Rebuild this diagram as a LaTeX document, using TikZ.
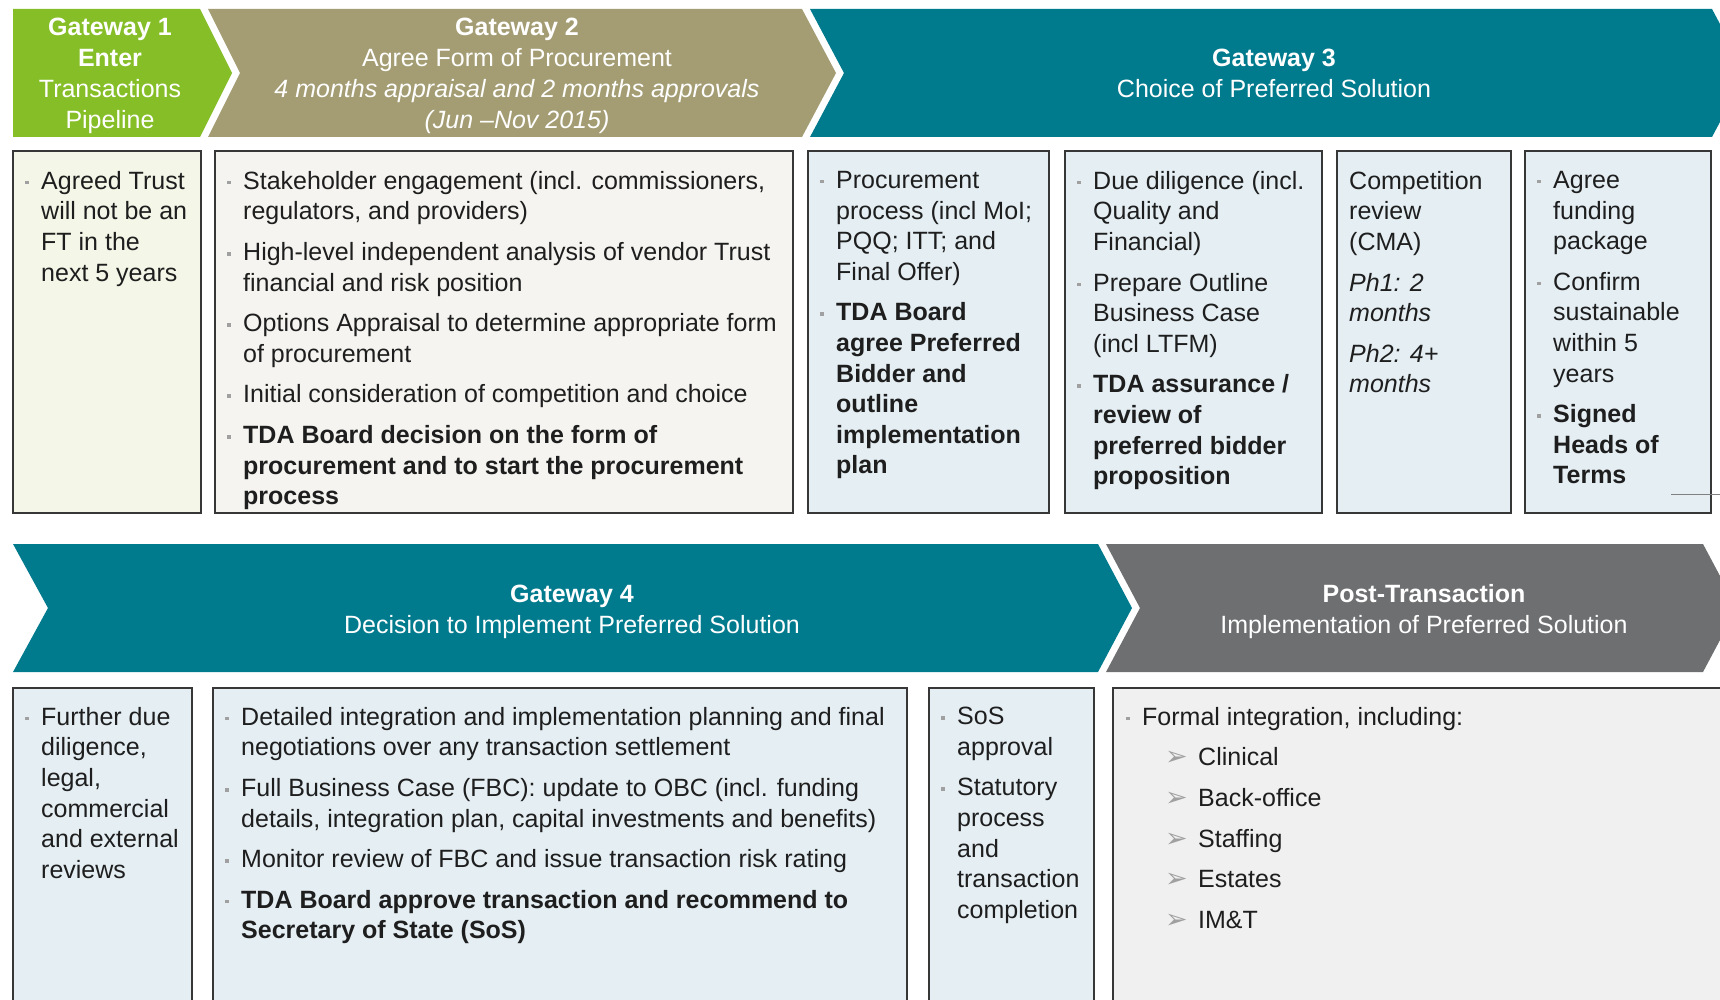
\documentclass[tikz,border=0pt]{standalone}
\usepackage{fontspec}
\setmainfont{Liberation Sans}
\newfontfamily\djv{DejaVu Sans}
\definecolor{gwgreen}{RGB}{134,190,40}
\definecolor{gwtan}{RGB}{164,157,116}
\definecolor{gwteal}{RGB}{0,122,141}
\definecolor{gwgray}{RGB}{110,111,113}
\definecolor{fillA}{RGB}{244,247,232}
\definecolor{fillB}{RGB}{245,244,240}
\definecolor{fillC}{RGB}{228,238,243}
\definecolor{fillD}{RGB}{240,240,240}
\definecolor{boxline}{RGB}{55,55,55}
\definecolor{txtcol}{RGB}{30,30,30}
\definecolor{bulcol}{RGB}{160,160,160}
\definecolor{arrcol}{RGB}{160,160,160}
\newcommand\bul{\makebox[16pt][l]{\textcolor{bulcol}{\rule[5pt]{3.5pt}{3.5pt}}}}
\newcommand\ind{\hspace*{16pt}}
\newcommand\subit{\hspace*{39pt}\makebox[33pt][l]{\djv\fontsize{27}{27}\selectfont\textcolor{arrcol}{➢}}}
\tikzset{
  chev/.style={draw=none},
  panel/.style={draw=boxline, line width=1.5pt},
  txt/.style={anchor=north west, inner sep=0pt, align=left, text=txtcol,
    font=\fontsize{25}{30.6}\selectfont},
  hdr/.style={anchor=north, inner sep=0pt, align=center, text=white,
    font=\fontsize{25}{31}\selectfont},
}
\begin{document}
\begin{tikzpicture}[x=1pt,y=-1pt]
\useasboundingbox (0,0) rectangle (1720,1000);
\clip (0,0) rectangle (1720,1000);
\fill[white] (0,0) rectangle (1720,1000);
% top chevrons
\fill[gwgreen] (13,9) -- (200,9) -- (232,73) -- (200,137) -- (13,137) -- cycle;
\fill[gwtan] (208,9) -- (802,9) -- (836,73) -- (802,137) -- (208,137) -- (240,73) -- cycle;
\fill[gwteal] (810,9) -- (1712,9) -- (1746,73) -- (1712,137) -- (810,137) -- (844,73) -- cycle;
% bottom chevrons
\fill[gwteal] (13,544) -- (1098,544) -- (1132,608) -- (1098,672) -- (13,672) -- (48,608) -- cycle;
\fill[gwgray] (1106,544) -- (1703,544) -- (1737,608) -- (1703,672) -- (1106,672) -- (1140,608) -- cycle;
% header texts
\node[hdr] (h1) at (110,17.5) {\textbf{Gateway 1}\\\textbf{Enter}\\Transactions\\Pipeline};
\node[hdr] (h2) at (517,17.5) {\textbf{Gateway 2}\\Agree Form of Procurement\\\textit{4 months appraisal and 2 months approvals}\\\textit{(Jun –Nov 2015)}};
\node[hdr] (h3) at (1274,49) {\textbf{Gateway 3}\\Choice of Preferred Solution};
\node[hdr] (h4) at (572,584.5) {\textbf{Gateway 4}\\Decision to Implement Preferred Solution};
\node[hdr] (h5) at (1424,584.5) {\textbf{Post-Transaction}\\Implementation of Preferred Solution};
% row 1 panels
\draw[panel, fill=fillA] (13,151) rectangle (201,513);
\draw[panel, fill=fillB] (215,151) rectangle (793,513);
\draw[panel, fill=fillC] (808,151) rectangle (1049,513);
\draw[panel, fill=fillC] (1065,151) rectangle (1322,513);
\draw[panel, fill=fillC] (1337,151) rectangle (1511,513);
\draw[panel, fill=fillC] (1525,151) rectangle (1711,513);
\draw[gray, line width=0.8pt] (1671,494) -- (1720,494);
% row 2 panels
\draw[panel, fill=fillC] (13,688) rectangle (192,1010);
\draw[panel, fill=fillC] (213,688) rectangle (907,1010);
\draw[panel, fill=fillC] (929,688) rectangle (1094,1010);
\draw[panel, fill=fillD] (1113,688) rectangle (1730,1010);
% row 1 texts
\node[txt] (t1) at (25,171) {\bul Agreed Trust\\\ind will not be an\\\ind FT in the\\\ind next 5 years};
\node[txt] (t2) at (227,171) {\bul Stakeholder engagement (incl. commissioners,\\
\ind regulators, and providers)\\[10pt]
\bul High-level independent analysis of vendor Trust\\
\ind financial and risk position\\[10pt]
\bul Options Appraisal to determine appropriate form\\
\ind of procurement\\[10pt]
\bul Initial consideration of competition and choice\\[10pt]
\bul \textbf{TDA Board decision on the form of}\\
\ind \textbf{procurement and to start the procurement}\\
\ind \textbf{process}};
\node[txt] (t3) at (820,171) {\bul Procurement\\\ind process (incl MoI;\\\ind PQQ; ITT; and\\\ind Final Offer)\\[10pt]
\bul \textbf{TDA Board}\\\ind \textbf{agree Preferred}\\\ind \textbf{Bidder and}\\\ind \textbf{outline}\\\ind \textbf{implementation}\\\ind \textbf{plan}};
\node[txt] (t4) at (1077,171) {\bul Due diligence (incl.\\\ind Quality and\\\ind Financial)\\[10pt]
\bul Prepare Outline\\\ind Business Case\\\ind (incl LTFM)\\[10pt]
\bul \textbf{TDA assurance /}\\\ind \textbf{review of}\\\ind \textbf{preferred bidder}\\\ind \textbf{proposition}};
\node[txt] (t5) at (1349,171) {Competition\\review\\(CMA)\\[10pt]\textit{Ph1: 2}\\\textit{months}\\[10pt]\textit{Ph2: 4+}\\\textit{months}};
\node[txt] (t6) at (1537,171) {\bul Agree\\\ind funding\\\ind package\\[10pt]
\bul Confirm\\\ind sustainable\\\ind within 5\\\ind years\\[10pt]
\bul \textbf{Signed}\\\ind \textbf{Heads of}\\\ind \textbf{Terms}};
% row 2 texts
\node[txt] (u1) at (25,707) {\bul Further due\\\ind diligence,\\\ind legal,\\\ind commercial\\\ind and external\\\ind reviews};
\node[txt] (u2) at (225,707) {\bul Detailed integration and implementation planning and final\\
\ind negotiations over any transaction settlement\\[10pt]
\bul Full Business Case (FBC): update to OBC (incl. funding\\
\ind details, integration plan, capital investments and benefits)\\[10pt]
\bul Monitor review of FBC and issue transaction risk rating\\[10pt]
\bul \textbf{TDA Board approve transaction and recommend to}\\
\ind \textbf{Secretary of State (SoS)}};
\node[txt] (u3) at (941,707) {\bul SoS\\\ind approval\\[10pt]\bul Statutory\\\ind process\\\ind and\\\ind transaction\\\ind completion};
\node[txt] (u4) at (1126,707) {\bul Formal integration, including:\\[10pt]
\subit Clinical\\[10pt]\subit Back-office\\[10pt]\subit Staffing\\[10pt]\subit Estates\\[10pt]\subit IM\&T};
\end{tikzpicture}
\end{document}
